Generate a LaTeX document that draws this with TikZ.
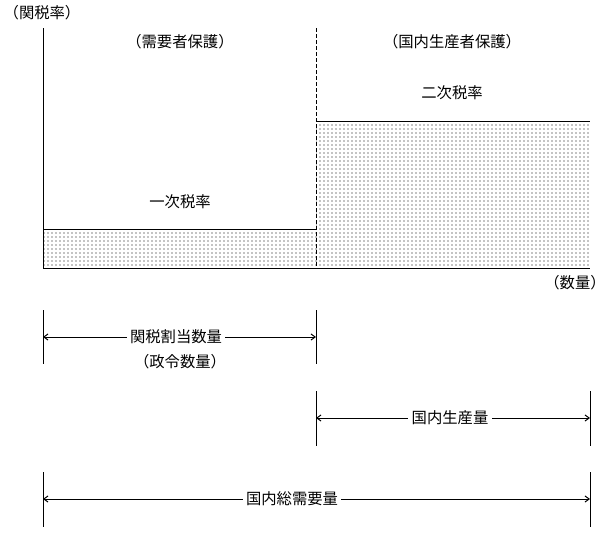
\documentclass[tikz,border=0pt]{standalone}
\usepackage{fontspec}
\setmainfont{Noto Sans CJK JP}
\usetikzlibrary{arrows.meta,patterns.meta}
\tikzset{lbl/.style={inner sep=1pt,font=\fontsize{11.5}{13.5}\selectfont},
  axis/.style={line width=0.75pt},
  dimln/.style={{Straight Barb[length=1.1mm,width=1.6mm]}-{Straight Barb[length=1.1mm,width=1.6mm]},line width=0.75pt},
  gap/.style={lbl,fill=white,inner xsep=2.5pt},
  bar/.style={pattern={Dots[distance=3pt,radius=0.45pt]},pattern color=black}}

\begin{document}
\begin{tikzpicture}[x=0.75pt,y=-0.75pt]
\useasboundingbox (0,0) rectangle (608,537);
% axes and tariff levels
\coordinate (O) at (43,268);
\coordinate (ytop) at (43,28);
\coordinate (xend) at (590,268);
\coordinate (qtop) at (316,28);
\coordinate (qbot) at (316,268);
\fill[bar] (43,229) rectangle (316,268);
\fill[bar] (316,121) rectangle (590,268);
\draw[axis] (43,229) coordinate (low1) -- (316,229) coordinate (low2);
\draw[axis] (316,121) coordinate (high1) -- (590,121) coordinate (high2);
\draw[axis] (ytop) -- (O) -- (xend);
\draw[axis,dash pattern=on 3pt off 1.5pt] (qtop) -- (qbot);
\node[lbl] (rate) at (42,13) {（関税率）};
\node[lbl] (dem) at (180,42) {（需要者保護）};
\node[lbl] (prod) at (452,42) {（国内生産者保護）};
\node[lbl] (second) at (452,93) {二次税率};
\node[lbl] (first) at (180,202) {一次税率};
\node[lbl] (qty) at (575,283) {（数量）};
% quota quantity
\draw[axis] (43,310) coordinate (a1) -- (43,364);
\draw[axis] (316,310) coordinate (a2) -- (316,364);
\draw[dimln] (43,337) coordinate (al) -- (316,337) coordinate (ar);
\node[gap] (quota) at (176,337) {関税割当数量};
\node[lbl] (decree) at (180,362) {（政令数量）};
% domestic production
\draw[axis] (316,391) coordinate (b1) -- (316,446);
\draw[axis] (590,391) coordinate (b2) -- (590,446);
\draw[dimln] (316,418) coordinate (bl) -- (590,418) coordinate (br);
\node[gap] (output) at (450,418) {国内生産量};
% total demand
\draw[axis] (43,472) coordinate (c1) -- (43,527);
\draw[axis] (590,472) coordinate (c2) -- (590,527);
\draw[dimln] (43,499) coordinate (cl) -- (590,499) coordinate (cr);
\node[gap] (demand) at (292,499) {国内総需要量};
\end{tikzpicture}
\end{document}
